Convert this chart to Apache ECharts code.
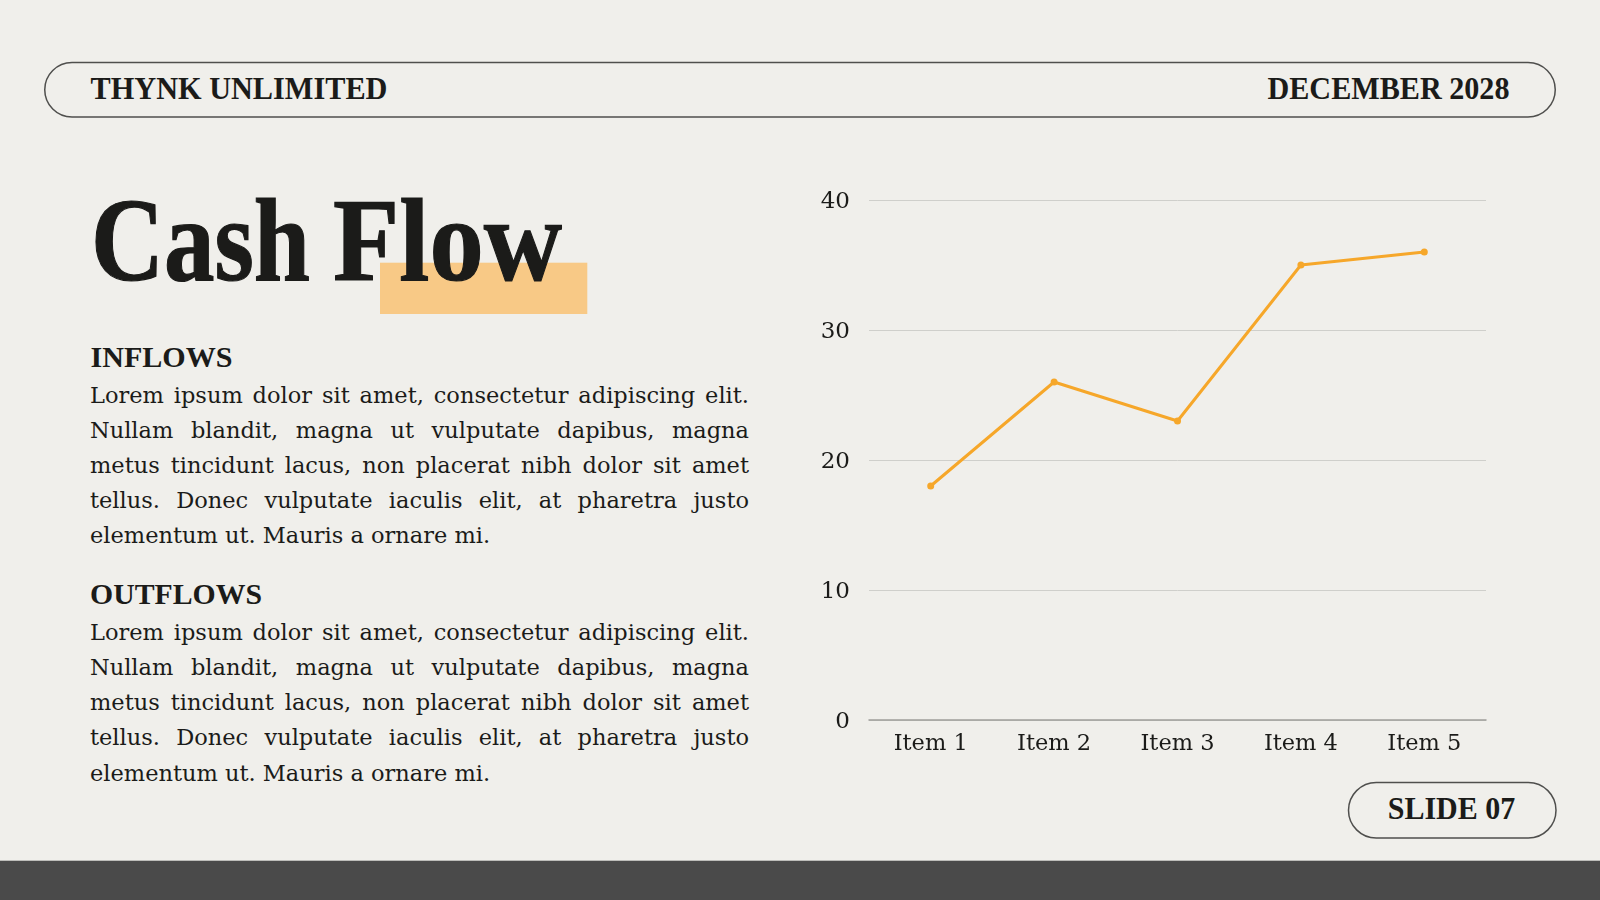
<!DOCTYPE html>
<html>
<head>
<meta charset="utf-8">
<script src="https://cdn.jsdelivr.net/npm/echarts@6/dist/echarts.min.js"></script>
<style>
  html, body { margin: 0; padding: 0; }
  body { width: 1600px; height: 900px; background: #F0EFEB; position: relative; overflow: hidden; }
  #deco { position: absolute; left: 0; top: 0; }
  #chart { position: absolute; left: 0; top: 0; width: 1600px; height: 900px; }
</style>
</head>
<body>
<svg id="deco" width="1600" height="900" xmlns="http://www.w3.org/2000/svg"></svg>
<div id="chart"></div>
<script>
// ---- data ----
const categories = ['Item 1', 'Item 2', 'Item 3', 'Item 4', 'Item 5'];
const values = [18, 26, 23, 35, 36];
const yTicks = { min: 0, max: 40, interval: 10 };

const companyName = 'THYNK UNLIMITED';
const dateText = 'DECEMBER 2028';
const titleWords = ['Cash', 'Flow'];
const slideText = 'SLIDE 07';
const inflowHeading = 'INFLOWS';
const outflowHeading = 'OUTFLOWS';
const inflowLines = [
  'Lorem ipsum dolor sit amet, consectetur adipiscing elit.',
  'Nullam blandit, magna ut vulputate dapibus, magna',
  'metus tincidunt lacus, non placerat nibh dolor sit amet',
  'tellus. Donec vulputate iaculis elit, at pharetra justo',
  'elementum ut. Mauris a ornare mi.'
];
const outflowLines = [
  'Lorem ipsum dolor sit amet, consectetur adipiscing elit.',
  'Nullam blandit, magna ut vulputate dapibus, magna',
  'metus tincidunt lacus, non placerat nibh dolor sit amet',
  'tellus. Donec vulputate iaculis elit, at pharetra justo',
  'elementum ut. Mauris a ornare mi.'
];

// ---- slide decoration (SVG) ----
const NS = 'http://www.w3.org/2000/svg';
const svg = document.getElementById('deco');
const INK = '#1b1b19';
function el(tag, attrs, text) {
  const e = document.createElementNS(NS, tag);
  for (const k in attrs) e.setAttribute(k, attrs[k]);
  if (text != null) e.textContent = text;
  svg.appendChild(e);
  return e;
}
const HEAD_FONT = "'Liberation Serif', 'Times New Roman', serif";
const BODY_FONT = "'DejaVu Serif', serif";

// header pill
el('rect', { x: 44.75, y: 62.5, width: 1510.5, height: 54.5, rx: 27.25, ry: 27.25, fill: 'none', stroke: '#4f4f4d', 'stroke-width': 1.5 });
el('text', { x: 90.5, y: 98.7, 'font-family': HEAD_FONT, 'font-weight': 'bold', 'font-size': 30.5, fill: INK, textLength: 297, lengthAdjust: 'spacingAndGlyphs' }, companyName);
el('text', { x: 1509.5, y: 98.7, 'text-anchor': 'end', 'font-family': HEAD_FONT, 'font-weight': 'bold', 'font-size': 30.5, fill: INK, textLength: 242, lengthAdjust: 'spacingAndGlyphs' }, dateText);

// title with highlight
el('rect', { x: 380, y: 262.7, width: 207.3, height: 51.3, fill: '#F8C986' });
el('text', { x: 91, y: 280, 'font-family': HEAD_FONT, 'font-weight': 'bold', 'font-size': 118, fill: INK, stroke: INK, 'stroke-width': 1.2, textLength: 219, lengthAdjust: 'spacingAndGlyphs' }, titleWords[0]);
el('text', { x: 333, y: 280, 'font-family': HEAD_FONT, 'font-weight': 'bold', 'font-size': 118, fill: INK, stroke: INK, 'stroke-width': 1.2, textLength: 229, lengthAdjust: 'spacingAndGlyphs' }, titleWords[1]);

// section headings
el('text', { x: 90.5, y: 366.7, 'font-family': HEAD_FONT, 'font-weight': 'bold', 'font-size': 29.5, fill: INK, textLength: 142, lengthAdjust: 'spacingAndGlyphs' }, inflowHeading);
el('text', { x: 90, y: 604, 'font-family': HEAD_FONT, 'font-weight': 'bold', 'font-size': 29.5, fill: INK, textLength: 172, lengthAdjust: 'spacingAndGlyphs' }, outflowHeading);

// justified paragraphs
const BODY_SIZE = 22.5;
const ctx = document.createElement('canvas').getContext('2d');
ctx.font = BODY_SIZE + 'px ' + BODY_FONT;
function paragraph(lines, x, firstBaseline, lineGap, width) {
  lines.forEach((line, i) => {
    const words = line.split(' ');
    const widths = words.map(w => ctx.measureText(w).width);
    const total = widths.reduce((a, b) => a + b, 0);
    const last = i === lines.length - 1;
    const gap = last ? ctx.measureText(' ').width : (width - total) / (words.length - 1);
    const t = el('text', { y: firstBaseline + i * lineGap, 'font-family': BODY_FONT, 'font-size': BODY_SIZE, fill: INK });
    let cx = x;
    words.forEach((w, j) => {
      const ts = document.createElementNS(NS, 'tspan');
      ts.setAttribute('x', cx.toFixed(2));
      ts.textContent = w + (j < words.length - 1 ? ' ' : '');
      t.appendChild(ts);
      cx += widths[j] + gap;
    });
  });
}
paragraph(inflowLines, 90, 402.5, 35.2, 659);
paragraph(outflowLines, 90, 639.7, 35.2, 659);

// footer pill + bar
el('rect', { x: 1348.5, y: 782.5, width: 207.5, height: 55.5, rx: 27.75, ry: 27.75, fill: 'none', stroke: '#4f4f4d', 'stroke-width': 1.5 });
el('text', { x: 1451.5, y: 819, 'text-anchor': 'middle', 'font-family': HEAD_FONT, 'font-weight': 'bold', 'font-size': 30.5, fill: INK, textLength: 127.5, lengthAdjust: 'spacingAndGlyphs' }, slideText);
el('rect', { x: 0, y: 860.7, width: 1600, height: 40, fill: '#4a4a4a' });

// ---- chart ----
const chart = echarts.init(document.getElementById('chart'), null, { renderer: 'canvas' });
chart.setOption({
  backgroundColor: 'transparent',
  animation: false,
  grid: { left: 869, right: 114, top: 200, bottom: 180, containLabel: false },
  xAxis: {
    type: 'category',
    data: categories,
    boundaryGap: true,
    axisLine: { show: true, lineStyle: { color: '#9f9f9b', width: 1.5 } },
    axisTick: { show: false },
    axisLabel: { color: INK, fontFamily: 'DejaVu Serif', fontSize: 22.5, margin: 13 }
  },
  yAxis: {
    type: 'value',
    min: yTicks.min,
    max: yTicks.max,
    interval: yTicks.interval,
    axisLine: { show: false },
    axisTick: { show: false },
    axisLabel: {
      color: INK, fontFamily: 'DejaVu Serif', fontSize: 23, margin: 19,
      formatter: '{v|{value}}',
      rich: { v: { color: INK, fontFamily: 'DejaVu Serif', fontSize: 23, padding: [5, 0, 0, 0] } }
    },
    splitLine: { show: true, lineStyle: { color: '#cfcfcb', width: 1 } }
  },
  series: [{
    type: 'line',
    data: values,
    symbol: 'circle',
    symbolSize: 7,
    lineStyle: { color: '#F6A72A', width: 3 },
    itemStyle: { color: '#F6A72A' }
  }]
});
</script>
</body>
</html>
